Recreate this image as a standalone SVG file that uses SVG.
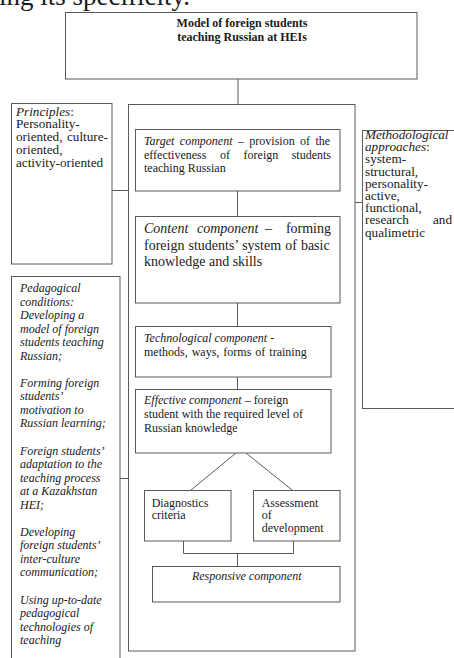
<svg xmlns="http://www.w3.org/2000/svg" width="454" height="658" viewBox="0 0 454 658">
<style>
  .bx{fill:#fff;stroke:#5a5a5a;stroke-width:1}
  .ln{fill:none;stroke:#5a5a5a;stroke-width:1}
  text{font-family:"Liberation Serif","Times New Roman",serif;fill:#1a1a1a}
  .t12{font-size:12px}
  .t14{font-size:14px}
  .side{font-size:13.2px}
  .b{font-weight:bold}
  .i{font-style:italic}
</style>
<rect width="454" height="658" fill="#fff"/>
<text x="-1" y="4.5" style="font-size:27px">ing its specificity.</text>

<g id="connectors">
  <line class="ln" x1="238" y1="79" x2="238" y2="104"/>
  <line class="ln" x1="112" y1="190.5" x2="128" y2="190.5"/>
  <line class="ln" x1="120" y1="478.5" x2="128" y2="478.5"/>
  <line class="ln" x1="355" y1="202.5" x2="362" y2="202.5"/>
  <line class="ln" x1="237.5" y1="191" x2="237.5" y2="216"/>
  <line class="ln" x1="237.5" y1="303" x2="237.5" y2="326"/>
  <line class="ln" x1="237.5" y1="377" x2="237.5" y2="389"/>
  <line class="ln" x1="236" y1="453" x2="191" y2="490"/>
  <line class="ln" x1="246" y1="453" x2="292" y2="490"/>
  <polyline class="ln" points="183.5,541 183.5,553.5 293.5,553.5 293.5,541"/>
  <line class="ln" x1="237.5" y1="553.5" x2="237.5" y2="566"/>
</g>

<g id="outer">
  <rect class="bx" x="128.5" y="104.5" width="226.5" height="546.5" style="fill:none"/>
</g>

<g id="title">
  <rect class="bx" x="65.5" y="12.5" width="351.5" height="66.5"/>
  <text class="t12 b" x="242" y="27" text-anchor="middle">Model of foreign students</text>
  <text class="t12 b" x="242" y="40.5" text-anchor="middle">teaching Russian at HEIs</text>
</g>

<g id="principles">
  <rect class="bx" x="11.5" y="103.5" width="100.5" height="160.5"/>
  <text class="side" x="16" y="115.5"><tspan class="i">Principles</tspan>:</text>
  <text class="side" x="16" y="128.3">Personality-</text>
  <text class="side" x="16" y="141.1">oriented,</text>
  <text class="side" x="108" y="141.1" text-anchor="end">culture-</text>
  <text class="side" x="16" y="153.9">oriented,</text>
  <text class="side" x="16" y="166.7">activity-oriented</text>
</g>

<g id="conditions">
  <rect class="bx" x="11.5" y="276.5" width="108.5" height="390"/>
  <g class="t12 i">
    <text x="20" y="292">Pedagogical</text>
    <text x="20" y="305.5">conditions:</text>
    <text x="20" y="319.1">Developing a</text>
    <text x="20" y="332.6">model of foreign</text>
    <text x="20" y="346.2">students teaching</text>
    <text x="20" y="359.7">Russian;</text>
    <text x="20" y="386.8">Forming foreign</text>
    <text x="20" y="400.3">students’</text>
    <text x="20" y="413.9">motivation to</text>
    <text x="20" y="427.4">Russian learning;</text>
    <text x="20" y="454.5">Foreign students’</text>
    <text x="20" y="468">adaptation to the</text>
    <text x="20" y="481.6">teaching process</text>
    <text x="20" y="495.1">at a Kazakhstan</text>
    <text x="20" y="508.7">HEI;</text>
    <text x="20" y="535.8">Developing</text>
    <text x="20" y="549.3">foreign students’</text>
    <text x="20" y="562.9">inter-culture</text>
    <text x="20" y="576.4">communication;</text>
    <text x="20" y="603.5">Using up-to-date</text>
    <text x="20" y="617">pedagogical</text>
    <text x="20" y="630.6">technologies of</text>
    <text x="20" y="644.1">teaching</text>
  </g>
</g>

<g id="approaches">
  <rect class="bx" x="362.5" y="130.5" width="94" height="278"/>
  <text class="side i" x="365" y="139">Methodological</text>
  <text class="side" x="365" y="151.2"><tspan class="i">approaches</tspan>:</text>
  <text class="side" x="365" y="163.4">system-</text>
  <text class="side" x="365" y="175.6">structural,</text>
  <text class="side" x="365" y="187.8">personality-</text>
  <text class="side" x="365" y="200">active,</text>
  <text class="side" x="365" y="212.2">functional,</text>
  <text class="side" x="365" y="224.4">research</text>
  <text class="side" x="452" y="224.4" text-anchor="end">and</text>
  <text class="side" x="365" y="236.6">qualimetric</text>
</g>

<g id="target">
  <rect class="bx" x="135.5" y="129.5" width="204.5" height="61.5"/>
  <text class="t12" x="144" y="145" style="word-spacing:2.4px"><tspan class="i">Target component</tspan> – provision of the</text>
  <text class="t12" x="144" y="158.7">effectiveness</text>
  <text class="t12" x="220" y="158.7">of</text>
  <text class="t12" x="243.6" y="158.7">foreign</text>
  <text class="t12" x="331" y="158.7" text-anchor="end">students</text>
  <text class="t12" x="144" y="172.4">teaching Russian</text>
</g>

<g id="content">
  <rect class="bx" x="135.5" y="216.5" width="204.5" height="86.5"/>
  <text class="t14 i" x="144" y="233">Content</text>
  <text class="t14 i" x="197" y="233">component</text>
  <text class="t14" x="265" y="233">–</text>
  <text class="t14" x="331" y="233" text-anchor="end">forming</text>
  <text class="t14" x="144" y="249.5" style="word-spacing:0.6px">foreign students’ system of basic</text>
  <text class="t14" x="144" y="266">knowledge and skills</text>
</g>

<g id="technological">
  <rect class="bx" x="135.5" y="326.5" width="195.5" height="50.5"/>
  <text class="t12" x="144" y="342"><tspan class="i">Technological component</tspan> -</text>
  <text class="t12" x="144" y="356" style="word-spacing:1px">methods, ways, forms of training</text>
</g>

<g id="effective">
  <rect class="bx" x="135.5" y="389.5" width="195.5" height="63.5"/>
  <text class="t12" x="144" y="403.5"><tspan class="i">Effective component</tspan> – foreign</text>
  <text class="t12" x="144" y="417.5">student with the required level of</text>
  <text class="t12" x="144" y="431.5">Russian knowledge</text>
</g>

<g id="diagnostics">
  <rect class="bx" x="144.5" y="490.5" width="86.5" height="50.5"/>
  <text class="t12" x="151.7" y="506.7">Diagnostics</text>
  <text class="t12" x="151.7" y="519.4">criteria</text>
</g>

<g id="assessment">
  <rect class="bx" x="253.5" y="490.5" width="86.5" height="50.5"/>
  <text class="t12" x="261.7" y="506.7">Assessment</text>
  <text class="t12" x="261.7" y="519.4">of</text>
  <text class="t12" x="261.7" y="532.1">development</text>
</g>

<g id="responsive">
  <rect class="bx" x="152.5" y="566.5" width="187.5" height="35.5"/>
  <text class="t12 i" x="246.7" y="580" text-anchor="middle">Responsive component</text>
</g>
</svg>
